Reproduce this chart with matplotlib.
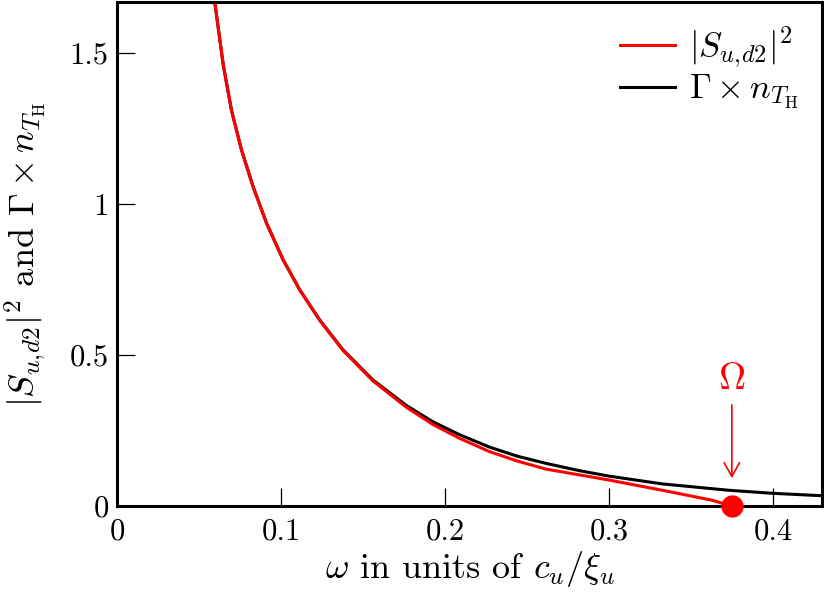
import numpy as np
import matplotlib
matplotlib.use("Agg")
import matplotlib.pyplot as plt

# values
omega_gamma = [0.0597, 0.0623, 0.0648, 0.0698, 0.0759, 0.0830, 0.0912, 0.1013,
               0.1115, 0.1236, 0.1378, 0.1561, 0.1764, 0.1926, 0.2089, 0.2272,
               0.2440, 0.2617, 0.2820, 0.3000, 0.3327, 0.3733, 0.4000, 0.4300]
gamma_n = [1.665, 1.560, 1.460, 1.310, 1.179, 1.057, 0.936, 0.815,
           0.715, 0.616, 0.517, 0.417, 0.333, 0.279, 0.236, 0.195,
           0.165, 0.141, 0.117, 0.099, 0.073, 0.052, 0.042, 0.034]

omega_s = [0.0597, 0.0623, 0.0648, 0.0698, 0.0759, 0.0830, 0.0912, 0.1013,
           0.1115, 0.1236, 0.1378, 0.1561, 0.1764, 0.1926, 0.2089, 0.2272,
           0.2440, 0.2617, 0.2820, 0.3000, 0.3327, 0.3630, 0.3750]
s_squared = [1.665, 1.560, 1.460, 1.310, 1.179, 1.057, 0.936, 0.815,
             0.715, 0.615, 0.515, 0.414, 0.327, 0.270, 0.224, 0.180,
             0.149, 0.122, 0.103, 0.086, 0.052, 0.019, 0.000]

omega_cut = 0.375

x_ticks = [0, 0.1, 0.2, 0.3, 0.4]
x_tick_labels = ["0", "0.1", "0.2", "0.3", "0.4"]
y_ticks = [0, 0.5, 1, 1.5]
y_tick_labels = ["0", "0.5", "1", "1.5"]

plt.rcParams["font.family"] = "serif"
plt.rcParams["font.serif"] = ["cmr10", "DejaVu Serif"]
plt.rcParams["mathtext.fontset"] = "cm"
plt.rcParams["axes.unicode_minus"] = False

fig = plt.figure(figsize=(8.24, 5.96), dpi=100)
ax = fig.add_axes([0.142, 0.151, 0.8556, 0.8456])

# black first so that the red curve sits on top of it
l_gamma, = ax.plot(omega_gamma, gamma_n, color="black", lw=2.2)
l_s, = ax.plot(omega_s, s_squared, color="red", lw=2.2)
ax.plot([omega_cut], [0], "o", color="red", ms=15, clip_on=False, zorder=5)

# Omega marker with arrow
ax.text(omega_cut, 0.42, r"$\Omega$", color="red", fontsize=27,
        ha="center", va="center")
ax.annotate("", xy=(omega_cut, 0.092), xytext=(omega_cut, 0.335),
            arrowprops=dict(arrowstyle="->,head_length=0.45,head_width=0.25",
                            color="red", lw=1.2, mutation_scale=22,
                            shrinkA=0, shrinkB=0))

ax.set_xlim(0, 0.43)
ax.set_ylim(0, 1.668)
ax.set_xticks(x_ticks)
ax.set_xticklabels(x_tick_labels)
ax.set_yticks(y_ticks)
ax.set_yticklabels(y_tick_labels)
ax.tick_params(direction="in", length=13, width=0.9, labelsize=22,
               top=False, right=False)
ax.tick_params(axis="x", pad=9)
ax.tick_params(axis="y", pad=6)
for sp in ax.spines.values():
    sp.set_linewidth(2.2)

s_label = r"$|S_{u,\!d2}|^2$"
g_label = r"$\Gamma\times n_{T_{\mathrm{H}}}$"

ax.set_xlabel(r"$\omega$ in units of $c_u/\xi_u$", fontsize=26, labelpad=2)
ax.set_ylabel(s_label + " and " + g_label, fontsize=26)
ax.yaxis.set_label_coords(-0.098, 0.5)

ax.legend([l_s, l_gamma], [s_label, g_label],
          loc="upper right", frameon=False, fontsize=25, handlelength=1.6,
          handletextpad=0.4, labelspacing=0.1, borderaxespad=0.25)

plt.savefig("out.png", dpi=100)
